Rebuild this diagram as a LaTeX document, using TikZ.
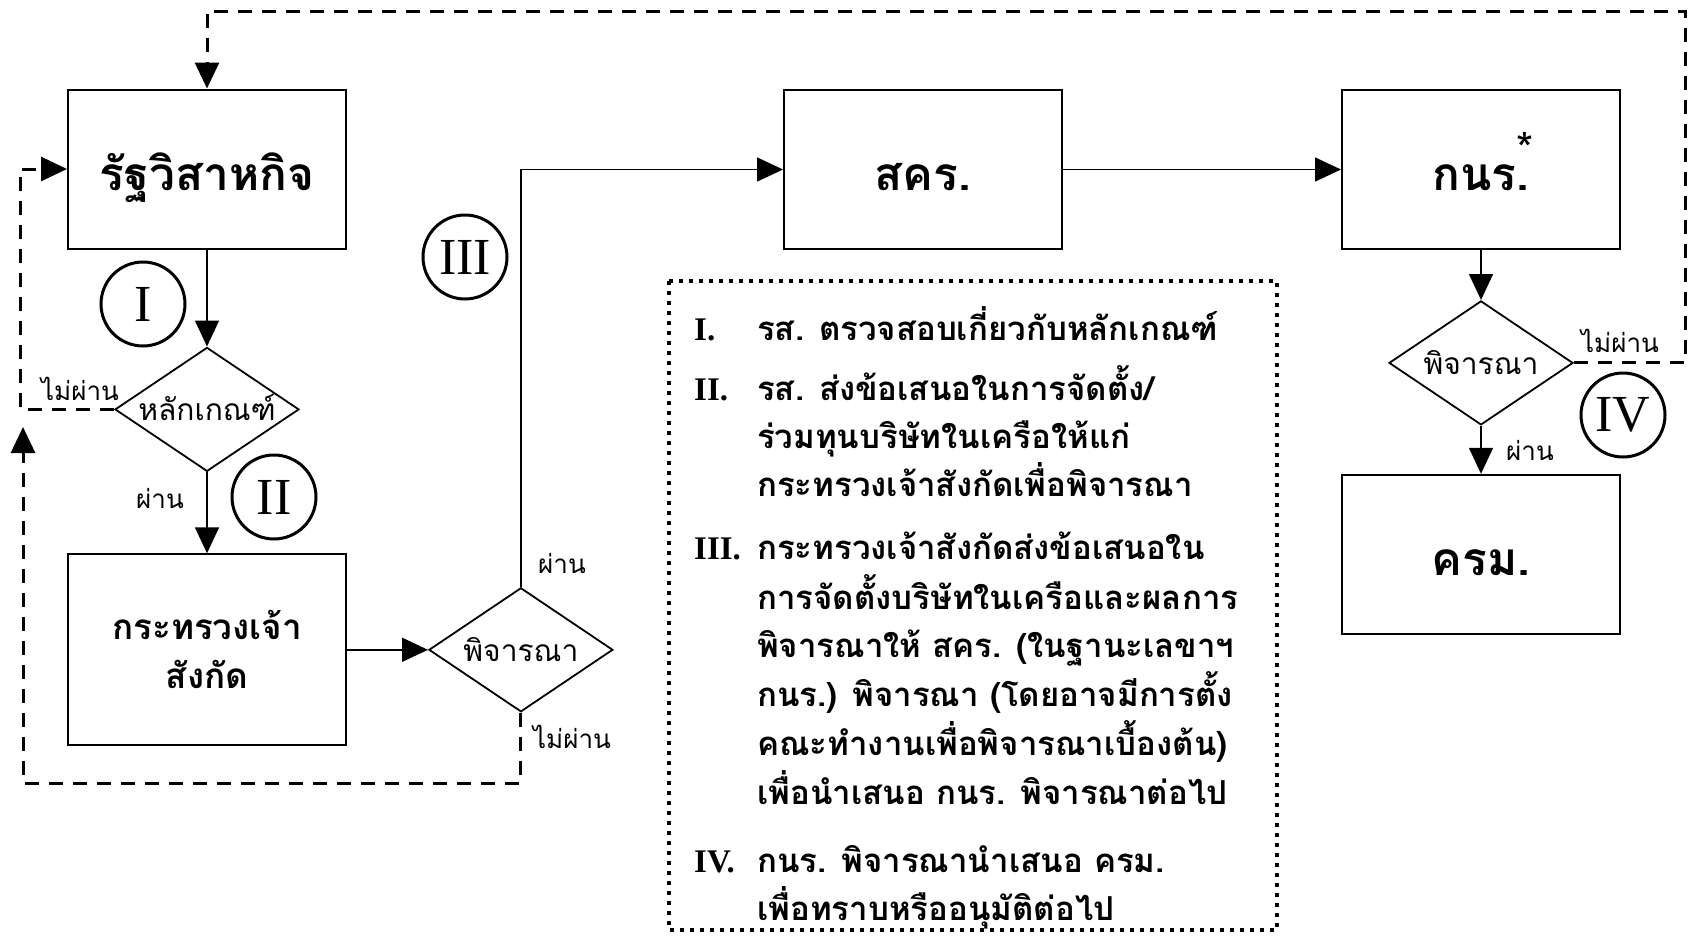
\documentclass[tikz,border=0pt]{standalone}
\usepackage{fontspec}
\newfontfamily\thaifont[Script=Thai]{Loma}
\newfontfamily\romanfont{Liberation Serif}
\usepackage{tikz}
\usetikzlibrary{positioning, arrows.meta, shapes.geometric}

\begin{document}
\begin{tikzpicture}[
  x=1pt, y=-1pt,
  every node/.style={font=\thaifont},
  box/.style={
    draw, line width=2pt, inner sep=0pt,
    minimum width=278pt, minimum height=159pt,
    text height=52pt, text depth=10pt,
    font=\thaifont\bfseries\fontsize{46}{50}\selectfont
  },
  decision/.style={
    draw, diamond, line width=1.8pt, inner sep=0pt,
    minimum width=184pt, minimum height=124pt,
    text height=28pt, text depth=5pt,
    font=\thaifont\fontsize{30}{32}\selectfont
  },
  stepno/.style={circle, draw, line width=3pt, minimum size=84pt, inner sep=0pt,
    font=\romanfont\fontsize{52}{52}\selectfont},
  lbl/.style={inner sep=0pt, font=\thaifont\fontsize{26}{28}\selectfont},
  arrow/.style={-{Triangle[length=26pt,width=24pt]}, line width=1.6pt},
  retarrow/.style={-{Triangle[length=26pt,width=24pt]}, line width=3pt,
    dash pattern=on 14pt off 10pt},
  legendframe/.style={line width=4pt, dash pattern=on 4pt off 6pt},
]
\useasboundingbox (0,0) rectangle (1692,937);

% Main chain
\node[box] (soe) at (207,169) {รัฐวิสาหกิจ};
\node[decision, below=97pt of soe] (crit) {\makebox[0pt]{หลักเกณฑ์}};
\node[box, minimum height=191pt, align=center, text height=, text depth=,
  font=\thaifont\bfseries\fontsize{35}{49}\selectfont,
  below=81pt of crit] (min) {กระทรวงเจ้า\\สังกัด};
\node[decision, right=81pt of min] (con1) {\makebox[0pt]{พิจารณา}};
\node[box] (sepo) at (923,169.5) {สคร.};
\node[box, right=278pt of sepo] (snc) {กนร.\rlap{\hspace{-13pt}\raisebox{26pt}{\mdseries\fontsize{44}{44}\selectfont *}}};
\node[decision, below=50pt of snc] (con2) {\makebox[0pt]{พิจารณา}};
\node[box, below=48pt of con2] (cab) {ครม.};

% Step numbers
\node[stepno] (n1) at (143,304) {I};
\node[stepno] (n2) at (274,497) {II};
\node[stepno] (n3) at (465,257) {III};
\node[stepno] (n4) at (1623,415) {IV};

% Pass / fail labels
\node[lbl] (p1) at (160,498) {ผ่าน};
\node[lbl] (f1) at (80,389) {ไม่ผ่าน};
\node[lbl] (p2) at (562,563) {ผ่าน};
\node[lbl] (f2) at (572,737) {ไม่ผ่าน};
\node[lbl] (f3) at (1620,341) {ไม่ผ่าน};
\node[lbl] (p3) at (1530,450) {ผ่าน};

% Flow arrows
\draw[arrow] (soe.south) -- (crit.north);
\draw[arrow] (crit.south) -- (min.north);
\draw[arrow] (min.east) -- (con1.west);
\draw[arrow] (con1.north) |- (sepo.west);
\draw[arrow] (sepo.east) -- (snc.west);
\draw[arrow] (snc.south) -- (con2.north);
\draw[arrow] (con2.south) -- (cab.north);

% Return paths
\coordinate (ne) at (1685,11);
\coordinate (sw) at (23,783);
\coordinate (upend) at (23,427);
\draw[retarrow] (crit.west) -- ++(-94,0) |- (soe.west);
\draw[retarrow] (con1.south) |- (sw) -- (upend);
\draw[retarrow] (con2.east) -| (ne) -| (soe.north);

% Legend
\draw[legendframe] (669,281) rectangle (1277,930);
\node[anchor=north west, inner sep=0pt,
  font=\thaifont\bfseries\fontsize{33}{48}\selectfont] (legend) at (694,306) {%
\begin{tabular}{@{}p{63pt}@{}l@{}}
{\romanfont I.} & รส. ตรวจสอบเกี่ยวกับหลักเกณฑ์\\[11pt]
{\romanfont II.} & รส. ส่งข้อเสนอในการจัดตั้ง/\\
 & ร่วมทุนบริษัทในเครือให้แก่\\
 & กระทรวงเจ้าสังกัดเพื่อพิจารณา\\[15pt]
{\romanfont III.} & กระทรวงเจ้าสังกัดส่งข้อเสนอใน\\
 & การจัดตั้งบริษัทในเครือและผลการ\\
 & พิจารณาให้ สคร. (ในฐานะเลขาฯ\\
 & กนร.) พิจารณา (โดยอาจมีการตั้ง\\
 & คณะทำงานเพื่อพิจารณาเบื้องต้น)\\
 & เพื่อนำเสนอ กนร. พิจารณาต่อไป\\[20pt]
{\romanfont IV.} & กนร. พิจารณานำเสนอ ครม.\\
 & เพื่อทราบหรืออนุมัติต่อไป
\end{tabular}};

\end{tikzpicture}
\end{document}
